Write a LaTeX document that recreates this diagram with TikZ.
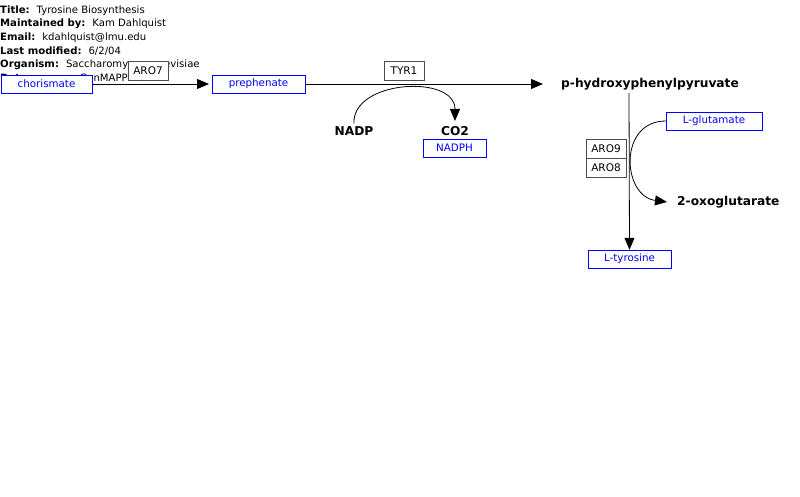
\documentclass[tikz,border=0pt]{standalone}
\usepackage{fontspec}
\setmainfont{DejaVu Sans}
\usetikzlibrary{arrows.meta}

\newcommand{\infoline}[2]{\textbf{#1}\hspace{7pt}#2}

\begin{document}
\begin{tikzpicture}[
    x=1pt, y=-1pt,
    metab/.style={draw=blue, fill=white, text=blue, font=\fontsize{10.3}{12}\selectfont,
      minimum height=18pt, inner sep=0pt},
    gene/.style={draw=black!70, fill=white, font=\fontsize{10.5}{12}\selectfont,
      minimum width=40pt, minimum height=19pt, inner sep=0pt},
    bold/.style={font=\bfseries\fontsize{12.2}{14}\selectfont, inner sep=0pt},
    info/.style={anchor=west, inner sep=0pt, font=\fontsize{10.1}{12}\selectfont},
    conv/.style={-{Triangle[length=12pt,width=10pt]}, thick},
  ]
  \useasboundingbox (0,0) rectangle (800,497);
  % infos de la carte
  \node[info] (title) at (0,11) {\infoline{Title:}{Tyrosine Biosynthesis}};
  \node[info] (maint) at (0,24) {\infoline{Maintained by:}{Kam Dahlquist}};
  \node[info] (email) at (0,38) {\infoline{Email:}{kdahlquist@lmu.edu}};
  \node[info] (modif) at (0,51) {\infoline{Last modified:}{6/2/04}};
  \node[info] (organ) at (0,65) {\infoline{Organism:}{Saccharomyces cerevisiae}};
  \node[info] (source) at (0,78) {\infoline{Data source:}{GenMAPP 2.0}};
  % metabolites
  \node[metab, minimum width=91pt] (chor) at (46.5,84) {chorismate};
  \node[metab, minimum width=93pt] (preph) at (258.5,84) {prephenate};
  \node[bold] (hpp) at (650,84) {p-hydroxyphenylpyruvate};
  \node[bold] (nadp) at (354,131) {NADP};
  \node[bold] (co2) at (455,131) {CO2};
  \node[metab, minimum width=63pt] (nadph) at (454.5,148) {NADPH};
  \node[metab, minimum width=96pt] (glu) at (714,121) {L-glutamate};
  \node[bold, anchor=west] (oxo) at (677,202) {2-oxoglutarate};
  \node[metab, minimum width=83pt] (tyr) at (629.5,259) {L-tyrosine};
  % reactions
  \coordinate (end1) at (209,84);
  \coordinate (end2) at (543,84);
  \draw[conv] (chor.east) -- (end1);
  \draw[conv] (preph.east) -- (end2);
  \draw[conv] (629,93) -- (tyr.north);
  \draw[conv] (nadp.north) ++(0,-3) .. controls (352,80) and (455,74) .. (455,121);
  \coordinate (oxoend) at (667,202);
  \draw[conv] (glu.west) .. controls (618,121) and (622,196) .. (oxoend);
  % enzymes
  \node[gene] (aro7) at (148,70.5) {ARO7};
  \node[gene] (tyr1) at (404,70.5) {TYR1};
  \node[gene] (aro9) at (606,148.5) {ARO9};
  \node[gene] (aro8) at (606,167.5) {ARO8};
\end{tikzpicture}
\end{document}
